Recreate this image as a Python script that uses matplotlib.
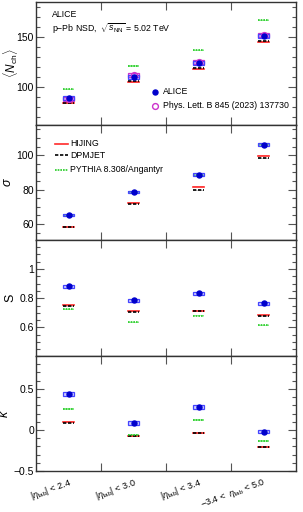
import matplotlib
matplotlib.use("Agg")
import matplotlib.pyplot as plt
import numpy as np
from matplotlib.patches import Rectangle
from matplotlib.ticker import MultipleLocator

plt.rcParams['font.family'] = ['Liberation Sans', 'DejaVu Sans']
plt.rcParams['mathtext.fontset'] = 'custom'
plt.rcParams['mathtext.rm'] = 'Liberation Sans'
plt.rcParams['mathtext.it'] = 'Liberation Sans:italic'

categories = [r'$|\eta_{\rm lab}|$ < 2.4', r'$|\eta_{\rm lab}|$ < 3.0',
              r'$|\eta_{\rm lab}|$ < 3.4', r'$-3.4$ <  $\eta_{\rm lab}$ < 5.0']

nch_alice = [89.3, 110.3, 124.3, 150.7]
nch_plb = [88.3, 112.0, 125.0, 152.3]
nch_hijing = [83.7, 104.7, 118.0, 145.0]
nch_dpmjet = [84.3, 105.7, 118.7, 145.7]
nch_pythia = [97.7, 121.0, 136.7, 166.7]

sigma_alice = [65.4, 78.6, 88.7, 106.2]
sigma_hijing = [58.4, 72.4, 81.7, 99.8]
sigma_dpmjet = [58.1, 71.8, 79.7, 98.3]
sigma_pythia = [65.2, 78.4, 88.5, 106.2]

s_alice = [0.882, 0.786, 0.834, 0.766]
s_hijing = [0.752, 0.711, 0.716, 0.682]
s_dpmjet = [0.745, 0.709, 0.713, 0.677]
s_pythia = [0.725, 0.636, 0.680, 0.616]

k_alice = [0.439, 0.086, 0.275, -0.020]
k_hijing = [0.094, -0.078, -0.037, -0.205]
k_dpmjet = [0.090, -0.070, -0.033, -0.213]
k_pythia = [0.254, -0.057, 0.119, -0.135]

# systematic uncertainties (box half heights)
nch_alice_sys = [1.8, 1.8, 1.8, 2.0]
nch_plb_sys = [1.8, 1.8, 1.8, 2.0]
sigma_alice_sys = [0.6, 0.7, 0.7, 0.8]
s_alice_sys = [0.009, 0.012, 0.010, 0.009]
k_alice_sys = [0.020, 0.025, 0.025, 0.020]

W = 303; H = 512
fig = plt.figure(figsize=(W/100, H/100), dpi=100)

left = 36/W; width = 260/W
panels_px = [(2, 125), (125, 240), (240, 356), (356, 471)]
axes = []
for (t, b) in panels_px:
    axes.append(fig.add_axes([left, (H-b)/H, width, (b-t)/H]))

xs = np.arange(4) + 0.5
hw = 0.085

blue = '#0000cc'
blue_box = '#4444ff'
mag = '#cc33cc'
red = '#ff2a2a'
green = '#22cc22'

def model(ax, vals, color, ls, fill, unc):
    for x, v in zip(xs, vals):
        ax.add_patch(Rectangle((x-hw, v-unc), 2*hw, 2*unc, facecolor=fill,
                               edgecolor='none', zorder=2))
        ax.plot([x-hw, x+hw], [v, v], color=color, ls=ls, lw=1.2, zorder=3,
                dashes=(2, 1) if ls == '--' else ((1, 0.6) if ls == ':' else (None, None)))

def data(ax, vals, sys, color, boxcolor, filled=True):
    for x, v, s in zip(xs, vals, sys):
        ax.add_patch(Rectangle((x-hw, v-s), 2*hw, 2*s, facecolor=boxcolor, alpha=0.25,
                               edgecolor='none', zorder=4))
        ax.add_patch(Rectangle((x-hw, v-s), 2*hw, 2*s, facecolor='none',
                               edgecolor=boxcolor, lw=0.9, zorder=5))
    if filled:
        ax.plot(xs, vals, 'o', ms=3.6, color=color, mec=color, zorder=6, ls='none')
    else:
        ax.plot(xs, vals, 'o', ms=4.2, mfc='none', mec=color, mew=1.0, zorder=6, ls='none')

def style(ax, ylim, major, minor, labels_x=False):
    ax.set_xlim(0, 4)
    ax.set_ylim(*ylim)
    ax.yaxis.set_major_locator(MultipleLocator(major))
    ax.yaxis.set_minor_locator(MultipleLocator(minor))
    ax.set_xticks(xs)
    ax.set_xticks([1, 2, 3], minor=True)
    ax.tick_params(axis='y', which='major', direction='in', length=6, width=0.8,
                   left=True, right=True, labelsize=7.5, pad=1.5, color='#555555')
    ax.tick_params(axis='y', which='minor', direction='in', length=3, width=0.8,
                   left=True, right=True, color='#555555')
    ax.tick_params(axis='x', which='major', length=0, labelbottom=labels_x)
    ax.tick_params(axis='x', which='minor', direction='in', length=6, width=0.8,
                   top=True, bottom=True, color='#555555')
    for sp in ax.spines.values():
        sp.set_linewidth(1.0)
        sp.set_color('#333333')

# Panel 1
ax = axes[0]
model(ax, nch_hijing, red, '-', '#ffb0b0', 0.8)
model(ax, nch_dpmjet, 'black', '--', '#cccccc', 0.6)
model(ax, nch_pythia, green, ':', '#b0f0b0', 0.6)
data(ax, nch_plb, nch_plb_sys, mag, mag, filled=False)
data(ax, nch_alice, nch_alice_sys, blue, blue_box, filled=True)
style(ax, (62, 185), 50, 10)
ax.set_ylabel(r'$\langle N_{\rm ch}\rangle$', fontsize=8.5)
ax.yaxis.set_label_coords(-0.062, 0.5)
ax.text(0.062, 0.9, 'ALICE', transform=ax.transAxes, fontsize=6.3, va='center')
ax.text(0.062, 0.78, r'p$-$Pb NSD,  $\sqrt{s_{\rm NN}}$ = 5.02 TeV', transform=ax.transAxes,
        fontsize=6.3, va='center')
ax.plot([0.458], [0.27], 'o', ms=3.6, color=blue, transform=ax.transAxes)
ax.text(0.49, 0.27, 'ALICE', transform=ax.transAxes, fontsize=6.3, va='center')
ax.plot([0.458], [0.155], 'o', ms=4.2, mfc='none', mec=mag, mew=1.0, transform=ax.transAxes)
ax.text(0.49, 0.155, 'Phys. Lett. B 845 (2023) 137730', transform=ax.transAxes,
        fontsize=6.3, va='center')

# Panel 2
ax = axes[1]
model(ax, sigma_hijing, red, '-', '#ffb0b0', 0.35)
model(ax, sigma_dpmjet, 'black', '--', '#cccccc', 0.3)
model(ax, sigma_pythia, green, ':', '#b0f0b0', 0.3)
data(ax, sigma_alice, sigma_alice_sys, blue, blue_box)
style(ax, (50.7, 117.6), 20, 5)
ax.set_ylabel(r'$\sigma$', fontsize=9, labelpad=2)
leg_y = [0.835, 0.735, 0.61]
names = ['HIJING', 'DPMJET', 'PYTHIA 8.308/Angantyr']
cols = [red, 'black', green]
lss = ['-', '--', ':']
for yy, n, c, l in zip(leg_y, names, cols, lss):
    kw = {}
    if l == '--':
        kw['dashes'] = (2, 1)
    elif l == ':':
        kw['dashes'] = (1, 0.6)
    ax.plot([0.073, 0.122], [yy, yy], color=c, lw=1.2, transform=ax.transAxes, **kw)
    ax.text(0.13, yy, n, transform=ax.transAxes, fontsize=6.3, va='center')

# Panel 3
ax = axes[2]
model(ax, s_hijing, red, '-', '#ffb0b0', 0.004)
model(ax, s_dpmjet, 'black', '--', '#cccccc', 0.003)
model(ax, s_pythia, green, ':', '#b0f0b0', 0.004)
data(ax, s_alice, s_alice_sys, blue, blue_box)
style(ax, (0.405, 1.198), 0.2, 0.05)
ax.yaxis.set_major_formatter(matplotlib.ticker.FuncFormatter(lambda v, p: ('%g' % round(v, 2))))
ax.set_ylabel('S', fontsize=9, labelpad=2)

# Panel 4
ax = axes[3]
model(ax, k_hijing, red, '-', '#ffb0b0', 0.01)
model(ax, k_dpmjet, 'black', '--', '#cccccc', 0.008)
model(ax, k_pythia, green, ':', '#b0f0b0', 0.01)
data(ax, k_alice, k_alice_sys, blue, blue_box)
style(ax, (-0.5, 0.9), 0.5, 0.1, labels_x=True)
ax.yaxis.set_major_formatter(matplotlib.ticker.FuncFormatter(
    lambda v, p: ('%g' % round(v, 2)).replace('-', '\u2212')))
ax.set_ylabel(r'$\kappa$', fontsize=9, labelpad=2)
ax.set_xticklabels(categories, rotation=20, ha='right', rotation_mode='anchor', fontsize=6.5)
ax.tick_params(axis='x', which='major', pad=4)

fig.savefig('out.png', dpi=100)
